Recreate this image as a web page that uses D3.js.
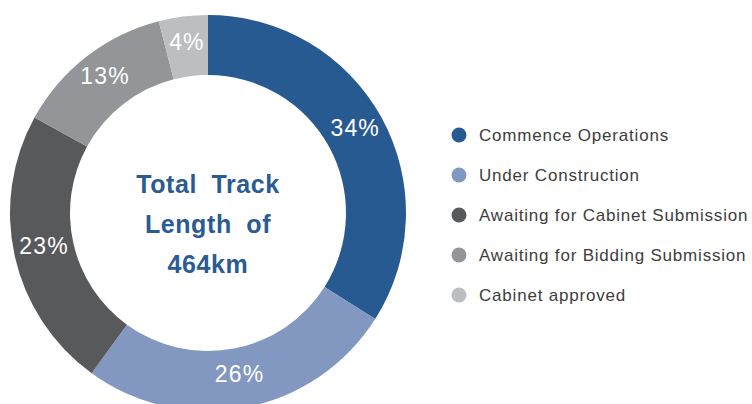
<!doctype html>
<html>
  <head>
    <script src="https://cdn.jsdelivr.net/npm/d3@7"></script>
    <style>
      body { margin: 0; background: #fff; }
      svg { display: block; font-family: "Liberation Sans", Arial, sans-serif; }
      .pct { fill: #fff; font-size: 23px; letter-spacing: 1.2px; }
      .center { fill: #2a5b93; font-size: 25px; font-weight: bold; letter-spacing: 0.6px; word-spacing: 7px; }
      .legend text { fill: #3d3d3d; font-size: 17px; letter-spacing: 0.8px; }
    </style>
  </head>
  <body>
    <script>
      var w_svg = 752;
      var h_svg = 404;

      // data
      var categories = ["Commence Operations", "Under Construction", "Awaiting for Cabinet Submission",
                        "Awaiting for Bidding Submission", "Cabinet approved"];
      var shares = [34, 26, 23, 13, 4];
      var colours = ["#285a92", "#8298c0", "#58595b", "#939598", "#bcbec0"];
      var centerLines = ["Total Track", "Length of", "464km"];

      var cx = 208, cy = 213;
      var r_out = 198, r_in = 138;

      var svg = d3.select("body")
                  .append("svg")
                  .attr("width", w_svg)
                  .attr("height", h_svg);

      var pie = d3.pie().sort(null).value(function(d) { return d; });
      var arc = d3.arc().innerRadius(r_in).outerRadius(r_out);

      var g = svg.append("g").attr("transform", "translate(" + cx + "," + cy + ")");

      var slices = pie(shares);

      g.selectAll("path")
        .data(slices)
        .enter().append("path")
        .attr("d", arc)
        .attr("fill", function(d, i) { return colours[i]; });

      g.selectAll("text.pct")
        .data(slices)
        .enter().append("text")
        .attr("class", "pct")
        .attr("text-anchor", "middle")
        .attr("x", function(d) { return arc.centroid(d)[0]; })
        .attr("y", function(d) { return arc.centroid(d)[1] - 4; })
        .attr("dy", "0.35em")
        .text(function(d) { return d.data + "%"; });

      // centre title
      g.selectAll("text.center")
        .data(centerLines)
        .enter().append("text")
        .attr("class", "center")
        .attr("text-anchor", "middle")
        .attr("x", 0)
        .attr("y", function(d, i) { return -20 + i * 40; })
        .text(function(d) { return d; });

      // legend
      var leg = svg.append("g").attr("class", "legend");
      var rows = leg.selectAll("g")
        .data(categories)
        .enter().append("g")
        .attr("transform", function(d, i) { return "translate(459," + (135 + i * 40) + ")"; });

      rows.append("circle")
        .attr("r", 7.5)
        .attr("fill", function(d, i) { return colours[i]; });

      rows.append("text")
        .attr("x", 20)
        .attr("dy", "0.35em")
        .text(function(d) { return d; });
    </script>
  </body>
</html>
